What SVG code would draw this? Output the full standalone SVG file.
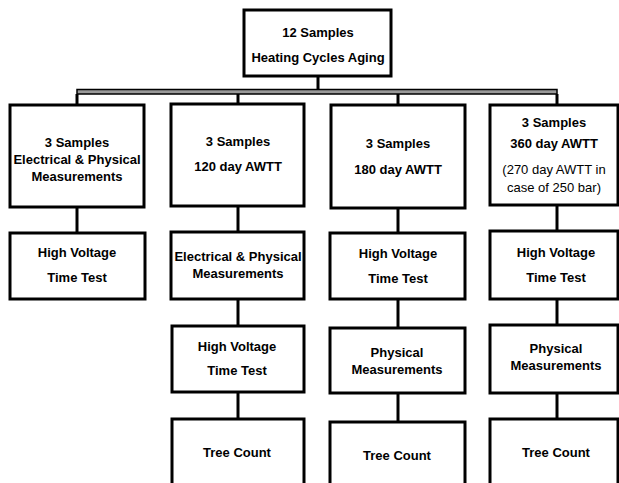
<svg xmlns="http://www.w3.org/2000/svg" width="619" height="483" viewBox="0 0 619 483">
<style>
.box{fill:#fff;stroke:#000;stroke-width:3}
.ln{stroke:#000;stroke-width:3;fill:none}
text{font-family:"Liberation Sans",Arial,sans-serif;font-size:13px;font-weight:bold;text-anchor:middle;fill:#000}
.n{font-weight:normal}
</style>
<rect width="619" height="483" fill="#fff"/>
<g id="connectors">
<line class="ln" x1="318" y1="76" x2="318" y2="90"/>
<rect x="77" y="89.5" width="480" height="4.5" fill="#9a9a9a" stroke="#000" stroke-width="1.5"/>
<line class="ln" x1="77" y1="94" x2="77" y2="105"/>
<line class="ln" x1="238" y1="94" x2="238" y2="105"/>
<line class="ln" x1="398" y1="94" x2="398" y2="105"/>
<line class="ln" x1="557" y1="94" x2="557" y2="105"/>
<line class="ln" x1="77" y1="207" x2="77" y2="233"/>
<line class="ln" x1="238" y1="206" x2="238" y2="232"/>
<line class="ln" x1="398" y1="208" x2="398" y2="233"/>
<line class="ln" x1="557" y1="205" x2="557" y2="231"/>
<line class="ln" x1="238" y1="299" x2="238" y2="326"/>
<line class="ln" x1="398" y1="299" x2="398" y2="328"/>
<line class="ln" x1="557" y1="299" x2="557" y2="325"/>
<line class="ln" x1="238" y1="392" x2="238" y2="419"/>
<line class="ln" x1="398" y1="393" x2="398" y2="422"/>
<line class="ln" x1="557" y1="393" x2="557" y2="419"/>
</g>
<g id="top">
<rect class="box" x="244" y="10" width="147" height="66"/>
<text x="318" y="37">12 Samples</text>
<text x="318" y="62">Heating Cycles Aging</text>
</g>
<g id="c1r1">
<rect class="box" x="10" y="105" width="134" height="102"/>
<text x="77" y="147">3 Samples</text>
<text x="77" y="164">Electrical &amp; Physical</text>
<text x="77" y="181">Measurements</text>
</g>
<g id="c2r1">
<rect class="box" x="171" y="104" width="133" height="102"/>
<text x="238" y="146">3 Samples</text>
<text x="238" y="171">120 day AWTT</text>
</g>
<g id="c3r1">
<rect class="box" x="331" y="105" width="134" height="103"/>
<text x="398" y="148">3 Samples</text>
<text x="398" y="174">180 day AWTT</text>
</g>
<g id="c4r1">
<rect class="box" x="490" y="105" width="128" height="100"/>
<text x="554" y="127">3 Samples</text>
<text x="554" y="148">360 day AWTT</text>
<text class="n" x="554" y="174">(270 day AWTT in</text>
<text class="n" x="554" y="192">case of 250 bar)</text>
</g>
<g id="c1r2">
<rect class="box" x="10" y="233" width="135" height="66"/>
<text x="77" y="257">High Voltage</text>
<text x="77" y="282">Time Test</text>
</g>
<g id="c2r2">
<rect class="box" x="171" y="232" width="133" height="67"/>
<text x="238" y="261">Electrical &amp; Physical</text>
<text x="238" y="278">Measurements</text>
</g>
<g id="c3r2">
<rect class="box" x="330" y="233" width="135" height="66"/>
<text x="398" y="258">High Voltage</text>
<text x="398" y="283">Time Test</text>
</g>
<g id="c4r2">
<rect class="box" x="490" y="231" width="128" height="68"/>
<text x="556" y="257">High Voltage</text>
<text x="556" y="282">Time Test</text>
</g>
<g id="c2r3">
<rect class="box" x="172" y="326" width="132" height="66"/>
<text x="237" y="351">High Voltage</text>
<text x="237" y="375">Time Test</text>
</g>
<g id="c3r3">
<rect class="box" x="330" y="328" width="135" height="65"/>
<text x="397" y="357">Physical</text>
<text x="397" y="374">Measurements</text>
</g>
<g id="c4r3">
<rect class="box" x="490" y="325" width="128" height="68"/>
<text x="556" y="353">Physical</text>
<text x="556" y="370">Measurements</text>
</g>
<g id="c2r4">
<rect class="box" x="172" y="419" width="132" height="80"/>
<text x="237" y="457">Tree Count</text>
</g>
<g id="c3r4">
<rect class="box" x="330" y="422" width="135" height="80"/>
<text x="397" y="460">Tree Count</text>
</g>
<g id="c4r4">
<rect class="box" x="490" y="419" width="128" height="80"/>
<text x="556" y="457">Tree Count</text>
</g>
</svg>
